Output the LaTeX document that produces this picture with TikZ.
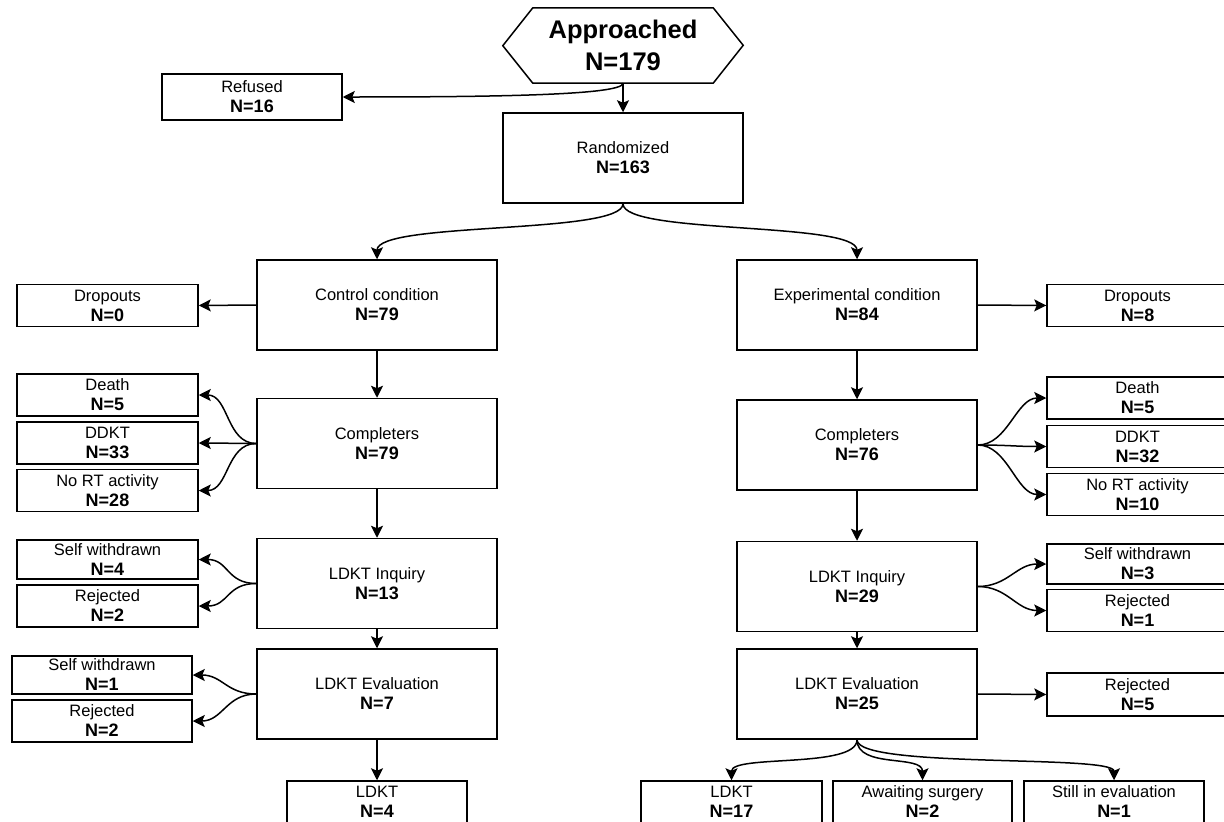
\documentclass[tikz,border=0pt]{standalone}
\usepackage{fontspec}
\setmainfont{Liberation Sans}
\usetikzlibrary{arrows.meta,calc}
\newcommand{\nval}[1]{{\fontsize{18}{20}\selectfont\bfseries N=#1}}
\tikzset{
    stage/.style={draw,line width=1.5pt,fill=white,align=center,inner sep=0pt,
        minimum width=240pt,minimum height=90pt,font=\fontsize{16.5}{20}\selectfont},
    side/.style={stage,minimum width=181pt,minimum height=42pt},
    flow/.style={-{Stealth[length=12pt,width=12pt,inset=2.5pt]},line width=1.5pt},
    hexlabel/.style={align=center,inner sep=0pt,minimum width=180pt,minimum height=75pt,
        font=\fontsize{25.5}{32}\selectfont\bfseries}
}

\begin{document}
\begin{tikzpicture}[x=1pt,y=-1pt]
\useasboundingbox (0,0) rectangle (1224,822);
% top
\node[hexlabel] (appr) at (623,45.5) {Approached\\N=179};
\draw[line width=1.5pt] (appr.north west) -- (appr.north east) -- ++(30,37.5)
    -- (appr.south east) -- (appr.south west) -- ++(-30,-37.5) -- cycle;
\node[side,minimum width=180pt,minimum height=46pt] (refused) at (252,97) {Refused\\\nval{16}};
\node[stage] (rand) at (623,158) {Randomized\\\nval{163}};
% conditions
\node[stage] (ctrl) at (377,305) {Control condition\\\nval{79}};
\node[stage] (expt) at (857,305) {Experimental condition\\\nval{84}};
\node[side] (dropL) at (107.5,305.5) {Dropouts\\\nval{0}};
\node[side] (dropR) at (1137.5,305.5) {Dropouts\\\nval{8}};
\node[stage] (compL) at (377,443.5) {Completers\\\nval{79}};
\node[stage] (compR) at (857,445) {Completers\\\nval{76}};
\node[side] (deathL) at (107.5,395) {Death\\\nval{5}};
\node[side] (ddktL) at (107.5,443) {DDKT\\\nval{33}};
\node[side] (nortL) at (107.5,490.5) {No RT activity\\\nval{28}};
\node[side] (deathR) at (1137.5,398) {Death\\\nval{5}};
\node[side] (ddktR) at (1137.5,446.5) {DDKT\\\nval{32}};
\node[side] (nortR) at (1137.5,494.5) {No RT activity\\\nval{10}};
% inquiry
\node[stage] (inqL) at (377,583.5) {LDKT Inquiry\\\nval{13}};
\node[stage] (inqR) at (857,586.5) {LDKT Inquiry\\\nval{29}};
\node[side,minimum height=39pt] (swL1) at (107.5,559.5) {Self withdrawn\\\nval{4}};
\node[side] (rejL1) at (107.5,606) {Rejected\\\nval{2}};
\node[side,minimum height=40pt] (swR1) at (1137.5,564) {Self withdrawn\\\nval{3}};
\node[side] (rejR1) at (1137.5,610.5) {Rejected\\\nval{1}};
% evaluation
\node[stage] (evalL) at (377,694) {LDKT Evaluation\\\nval{7}};
\node[stage] (evalR) at (857,694) {LDKT Evaluation\\\nval{25}};
\node[side,minimum width=180pt,minimum height=38pt] (swL2) at (102,675) {Self withdrawn\\\nval{1}};
\node[side,minimum width=180pt] (rejL2) at (102,721) {Rejected\\\nval{2}};
\node[side,minimum height=43pt] (rejR2) at (1137.5,694.5) {Rejected\\\nval{5}};
\node[side,minimum width=180pt] (ldktL) at (377,802) {LDKT\\\nval{4}};
\node[side] (ldktR) at (731.5,802) {LDKT\\\nval{17}};
\node[side,minimum width=179pt] (awaitR) at (922.5,802) {Awaiting surgery\\\nval{2}};
\node[side,minimum width=180pt] (stillR) at (1114,802) {Still in evaluation\\\nval{1}};

\draw[flow] (appr) -- (rand);
\draw[flow] (appr.south) .. controls +(0,12) and +(150,0) .. (refused.east);
\draw[flow] (rand.south) .. controls +(0,31) and +(0,-38) .. (ctrl.north);
\draw[flow] (rand.south) .. controls +(0,31) and +(0,-38) .. (expt.north);
\draw[flow] (ctrl.west) -- (dropL.east);
\draw[flow] (expt.east) -- (dropR.west);
\draw[flow] (ctrl) -- (compL);
\draw[flow] (expt) -- (compR);
\foreach \t in {deathL,ddktL,nortL}
    \draw[flow] (compL.west) .. controls +(-30,0) and +(30,0) .. (\t.east);
\foreach \t in {deathR,ddktR,nortR}
    \draw[flow] (compR.east) .. controls +(30,0) and +(-30,0) .. (\t.west);
\draw[flow] (compL) -- (inqL);
\draw[flow] (compR) -- (inqR);
\foreach \t in {swL1,rejL1}
    \draw[flow] (inqL.west) .. controls +(-30,0) and +(30,0) .. (\t.east);
\foreach \t in {swR1,rejR1}
    \draw[flow] (inqR.east) .. controls +(30,0) and +(-30,0) .. (\t.west);
\draw[flow] (inqL) -- (evalL);
\draw[flow] (inqR) -- (evalR);
\foreach \t in {swL2,rejL2}
    \draw[flow] (evalL.west) .. controls +(-30,0) and +(30,0) .. (\t.east);
\draw[flow] (evalR.east) -- (rejR2.west);
\draw[flow] (evalL) -- (ldktL);
\foreach \t in {ldktR,awaitR,stillR}
    \draw[flow] (evalR.south) .. controls +(0,29) and +(0,-26) .. (\t.north);
\end{tikzpicture}
\end{document}
